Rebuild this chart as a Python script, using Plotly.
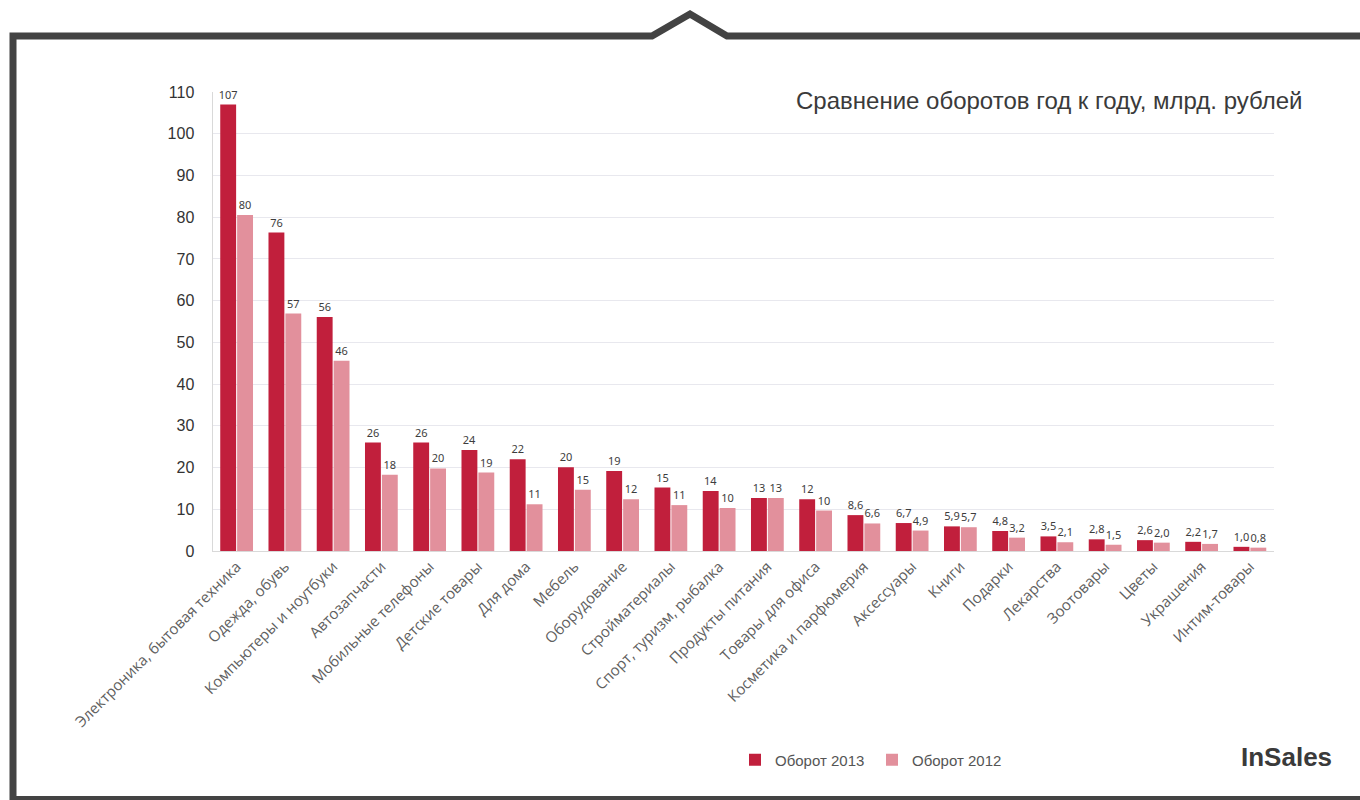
import plotly.graph_objects as go

categories = [
    "Электроника, бытовая техника", "Одежда, обувь", "Компьютеры и ноутбуки",
    "Автозапчасти", "Мобильные телефоны", "Детские товары", "Для дома", "Мебель",
    "Оборудование", "Стройматериалы", "Спорт, туризм, рыбалка", "Продукты питания",
    "Товары для офиса", "Косметика и парфюмерия", "Аксессуары", "Книги", "Подарки",
    "Лекарства", "Зоотовары", "Цветы", "Украшения", "Интим-товары",
]
turnover_2013 = [107, 76.3, 56.1, 26.0, 26.0, 24.2, 22.0, 20.1, 19.2, 15.2, 14.4,
                 12.7, 12.4, 8.6, 6.7, 5.9, 4.8, 3.5, 2.8, 2.6, 2.2, 1.0]
turnover_2012 = [80.5, 56.9, 45.6, 18.3, 19.8, 18.8, 11.2, 14.7, 12.4, 11.0, 10.3,
                 12.7, 9.7, 6.6, 4.9, 5.7, 3.2, 2.1, 1.5, 2.0, 1.7, 0.8]
series_names = ["Оборот 2013", "Оборот 2012"]
y_ticks = list(range(0, 111, 10))

C2013 = "#C11F3C"
C2012 = "#E2909C"
W, H = 1360, 800


def fmt(v):
    if v >= 9.5:
        return f"{round(v):d}"
    return f"{v:.1f}".replace(".", ",")


def px(x, y):
    return x / W, 1 - y / H


fig = go.Figure()
for name, vals, col in [(series_names[0], turnover_2013, C2013),
                        (series_names[1], turnover_2012, C2012)]:
    fig.add_trace(go.Bar(
        x=categories, y=vals, name=name,
        marker=dict(color=col, line=dict(width=0)),
        text=[fmt(v) for v in vals], textposition="outside", constraintext="none",
        textfont=dict(family="Noto Sans, Open Sans, sans-serif", size=11, color="#3d3d3d"),
        cliponaxis=False,
        hoverinfo="x+y",
    ))

# frame path (pixel coords -> paper)
pts = [(13, 800), (13, 36), (652, 36), (690, 14), (727, 36), (1365, 36)]
path = "M " + " L ".join(f"{px(x, y)[0]:.5f},{px(x, y)[1]:.5f}" for x, y in pts)
shapes = [
    dict(type="path", xref="paper", yref="paper", path=path,
         line=dict(color="#434343", width=7), layer="above"),
    dict(type="line", xref="paper", yref="paper",
         x0=px(10, 798)[0], y0=px(10, 798)[1], x1=px(1360, 798)[0], y1=px(1360, 798)[1],
         line=dict(color="#434343", width=4)),
]

fig.update_layout(
    width=W, height=H,
    margin=dict(l=0, r=0, t=0, b=0, autoexpand=False),
    paper_bgcolor="white", plot_bgcolor="white",
    barmode="group", bargap=0.3, bargroupgap=0.06,
    showlegend=True,
    legend=dict(orientation="h", x=735 / W, y=1 - 760 / H, xanchor="left", yanchor="middle",
                font=dict(family="Liberation Sans, sans-serif", size=15, color="#555555"),
                itemwidth=30, traceorder="normal", entrywidth=92),
    xaxis=dict(domain=[212.5 / W, 1274 / W], tickangle=-45, automargin=False,
               tickfont=dict(family="Open Sans, sans-serif", size=15, color="#606060"),
               showline=True, linecolor="#d9d9d9", linewidth=1, ticks=""),
    yaxis=dict(domain=[1 - 551 / H, 1 - 92 / H], range=[0, 110], tickvals=y_ticks,
               automargin=False,
               showgrid=True, gridcolor="#e8e8ee", gridwidth=1, zeroline=False,
               showline=True, linecolor="#d9d9d9", linewidth=1,
               tickfont=dict(family="Liberation Sans, sans-serif", size=16, color="#333333"),
               ticklabelstandoff=14),
    shapes=shapes,
    annotations=[
        dict(text="Сравнение оборотов год к году, млрд. рублей", xref="paper", yref="paper",
             x=1304 / W, y=1 - 101 / H, xanchor="right", yanchor="middle", showarrow=False,
             font=dict(family="Liberation Sans, sans-serif", size=24, color="#3a3a3a")),
        dict(text="<b>InSales</b>", xref="paper", yref="paper",
             x=1286 / W, y=1 - 757 / H, xanchor="center", yanchor="middle", showarrow=False,
             font=dict(family="Liberation Sans, sans-serif", size=26, color="#3a3a3a")),
    ],
)

fig.write_html("out.html", config={"displayModeBar": False},
               post_script="document.body.style.margin='0';document.body.style.overflow='hidden';")
